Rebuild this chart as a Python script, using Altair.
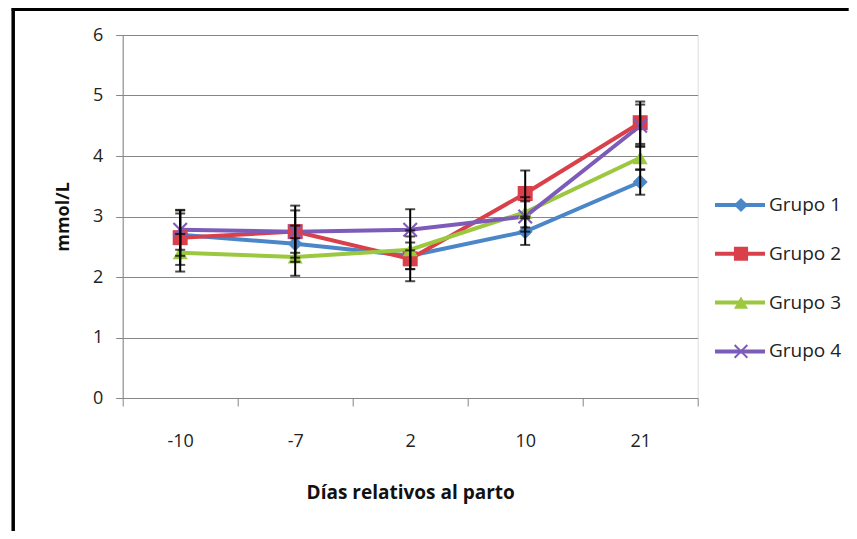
import altair as alt
import pandas as pd

days = ["-10", "-7", "2", "10", "21"]
groups = ["Grupo 1", "Grupo 2", "Grupo 3", "Grupo 4"]

g1 = [2.70, 2.55, 2.35, 2.75, 3.57]
g2 = [2.65, 2.75, 2.30, 3.38, 4.55]
g3 = [2.40, 2.33, 2.45, 3.07, 3.97]
g4 = [2.78, 2.75, 2.78, 3.00, 4.50]

e1 = [0.35, 0.30, 0.22, 0.22, 0.21]
e2 = [0.45, 0.43, 0.37, 0.38, 0.35]
e3 = [0.31, 0.31, 0.32, 0.25, 0.20]
e4 = [0.33, 0.35, 0.34, 0.25, 0.35]

y_ticks = [0, 1, 2, 3, 4, 5, 6]

colors = ["#4A86C8", "#D9404A", "#9BC83F", "#7D5BB8"]
x_path = "M-1,-0.8L-0.8,-1L0,-0.2L0.8,-1L1,-0.8L0.2,0L1,0.8L0.8,1L0,0.2L-0.8,1L-1,0.8L-0.2,0Z"
shapes = ["diamond", "square", "triangle-up", x_path]

means = [g1, g2, g3, g4]
errs = [e1, e2, e3, e4]
rows = []
for g, ms, es in zip(groups, means, errs):
    for d, m, s in zip(days, ms, es):
        rows.append({"Dia": d, "Grupo": g, "mmol": m, "lo": round(m - s, 3), "hi": round(m + s, 3)})
df = pd.DataFrame(rows)

FONT = "Open Sans"
GREY = "#868686"

x_enc = alt.X(
    "Dia:N", sort=days,
    scale=alt.Scale(paddingInner=0, paddingOuter=0),
    axis=alt.Axis(title="Días relativos al parto", labelAngle=0, tickBand="extent",
                  tickSize=8, labelPadding=26, titlePadding=33,
                  labelFontSize=18, titleFontSize=19, titleFontWeight="bold",
                  labelColor="#222222", titleColor="#111111",
                  labelFont=FONT, titleFont=FONT,
                  domainColor=GREY, tickColor=GREY, grid=False),
)
y_enc = alt.Y(
    "mmol:Q",
    scale=alt.Scale(domain=[0, 6], nice=False, zero=True),
    axis=alt.Axis(title="mmol/L", values=y_ticks, format="d", tickSize=7, labelPadding=13,
                  titlePadding=20, labelFontSize=18, titleFontSize=18,
                  titleFontWeight="bold", labelFont=FONT, titleFont=FONT,
                  labelColor="#222222", titleColor="#111111",
                  domainColor=GREY, tickColor=GREY, grid=True, gridColor=GREY,
                  gridWidth=1),
)

base = alt.Chart(df)

lines = base.mark_line(strokeWidth=4).encode(
    x=x_enc, y=y_enc,
    color=alt.Color("Grupo:N", scale=alt.Scale(domain=groups, range=colors),
                    legend=alt.Legend(orient="none", legendX=590.3, legendY=160,
                                      title=None, symbolType="stroke", symbolSize=2500,
                                      symbolStrokeWidth=4, labelFontSize=19, labelFont=FONT,
                                      labelColor="#222222", labelOffset=2, rowPadding=28.8,
                                      clipHeight=20, padding=0)),
)

leg2 = dict(orient="none", legendX=608.8, legendY=160, title=None,
            symbolSize=200, symbolStrokeWidth=0, labelFontSize=19, labelFont=FONT,
            labelExpr="''", labelOffset=2, rowPadding=28.8, clipHeight=20, padding=0)

points = base.mark_point(filled=True, opacity=1, size=225).encode(
    x=x_enc, y=y_enc,
    color=alt.Color("Grupo:N", scale=alt.Scale(domain=groups, range=colors),
                    legend=alt.Legend(**leg2)),
    shape=alt.Shape("Grupo:N", scale=alt.Scale(domain=groups, range=shapes),
                    legend=alt.Legend(**leg2)),
)

bars = base.mark_rule(color="black", strokeWidth=2).encode(
    x=alt.X("Dia:N", sort=days), y=alt.Y("lo:Q"), y2="hi:Q"
)
caps_lo = base.mark_tick(color="black", thickness=2, size=10).encode(
    x=alt.X("Dia:N", sort=days), y=alt.Y("lo:Q")
)
caps_hi = base.mark_tick(color="black", thickness=2, size=10).encode(
    x=alt.X("Dia:N", sort=days), y=alt.Y("hi:Q")
)

frame_df = pd.DataFrame({"k": [0]})
frame_left = alt.Chart(frame_df).mark_rule(color="black", strokeWidth=3.5).encode(
    x=alt.value(-109.5), y=alt.value(-27), y2=alt.value(496)
)
frame_top = alt.Chart(frame_df).mark_rule(color="black", strokeWidth=3).encode(
    x=alt.value(-111), x2=alt.value(726), y=alt.value(-25.5)
)

chart = alt.layer(lines, points, bars, caps_lo, caps_hi, frame_left, frame_top).resolve_scale(
    color="independent", shape="independent"
).properties(
    width=575, height=363,
    autosize=alt.AutoSizeParams(type="none"),
    padding={"left": 114.7, "top": 27, "right": 151.3, "bottom": 133},
).configure_view(stroke=None).configure(background="white")

chart.save("out.html", embed_options={"renderer": "svg", "actions": False})
